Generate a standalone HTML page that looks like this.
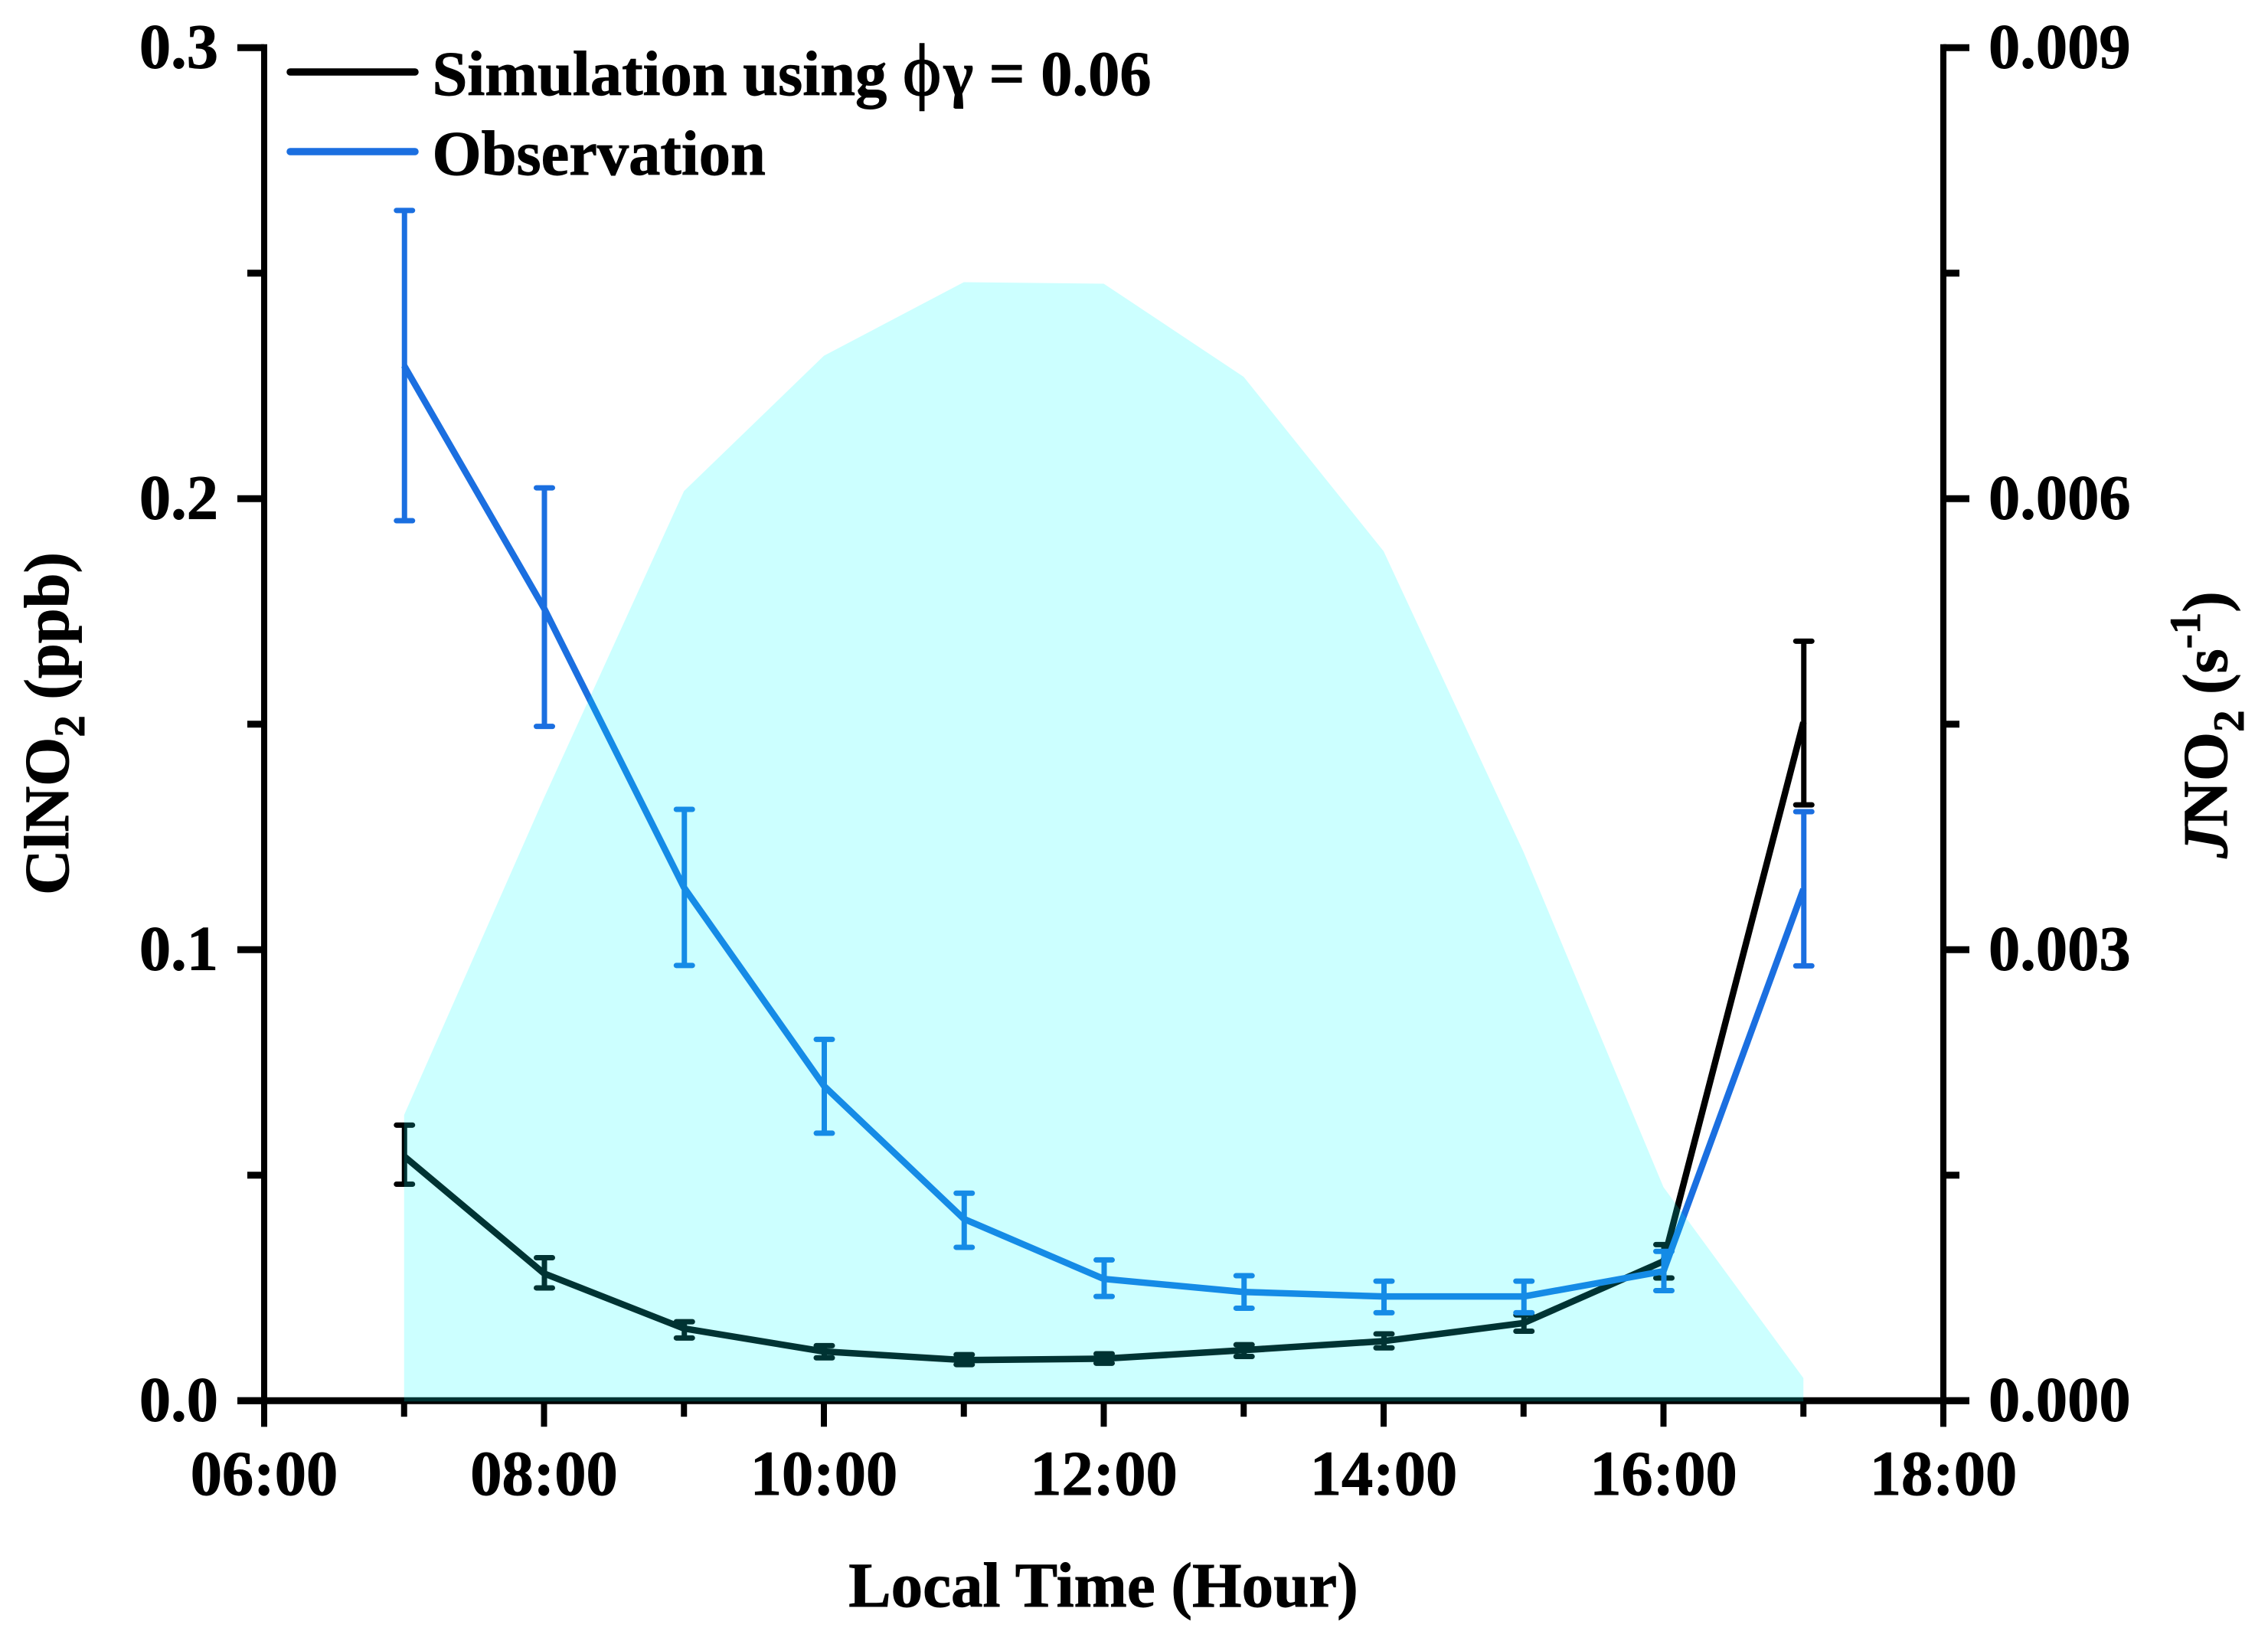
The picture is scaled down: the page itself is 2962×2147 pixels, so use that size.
<!DOCTYPE html>
<html lang="en">
<head>
<meta charset="utf-8">
<title>ClNO2 and JNO2 diurnal profile</title>
<style>
  html, body { margin: 0; padding: 0; background: #ffffff; }
  svg { display: block; }
  text { font-family: "Liberation Serif", serif; font-weight: bold; font-size: 82.5px; fill: #000; stroke: #000; stroke-width: 0.9px; white-space: pre; }
</style>
</head>
<body>
<svg id="chart" xmlns="http://www.w3.org/2000/svg" width="2962" height="2147" viewBox="0 0 2962 2147">
  <rect x="0" y="0" width="2962" height="2147" fill="#ffffff"/>
  <g id="axes-layer"></g>
  <g id="series-layer"></g>
  <g id="area-layer"></g>
  <g id="labels-layer"></g>

  <g>
    <line x1="379" y1="94" x2="542" y2="94" stroke="#000000" stroke-width="9.5" stroke-linecap="round"/>
    <text x="564.5" y="124">Simulation using <tspan style="font-weight:normal;stroke-width:1.6px;font-size:96px">ϕ</tspan><tspan dx="3">γ = 0.06</tspan></text>
    <line x1="379" y1="198" x2="542" y2="198" stroke="#1b6fe0" stroke-width="9.5" stroke-linecap="round"/>
    <text x="564.5" y="228">Observation</text>
  </g>

  <text x="1441" y="2098" text-anchor="middle" style="font-size:83px">Local Time (Hour)</text>
  <text transform="translate(89,1169) rotate(-90)">ClNO<tspan dy="21" style="font-size:57px">2</tspan><tspan dy="-21"> (ppb)</tspan></text>
  <text transform="translate(2908,1121) rotate(-90)"><tspan style="font-style:italic">J</tspan>NO<tspan dy="22" style="font-size:57px">2</tspan><tspan dy="-22"> (s</tspan><tspan dy="-35" style="font-size:57px">-1</tspan><tspan dy="35">)</tspan></text>
</svg>

<script>
// Chart data
const hours = [7, 8, 9, 10, 11, 12, 13, 14, 15, 16, 17];
const simValues = [0.0542, 0.0282, 0.0160, 0.0109, 0.0090, 0.0093, 0.0112, 0.0132, 0.0172, 0.0309, 0.1504];
const simUpper  = [0.0611, 0.0317, 0.0175, 0.0122, 0.0102, 0.0104, 0.0124, 0.0148, 0.0190, 0.0346, 0.1684];
const simLower  = [0.0480, 0.0250, 0.0139, 0.0095, 0.0080, 0.0083, 0.0098, 0.0117, 0.0154, 0.0272, 0.1321];
const obsValues = [0.2295, 0.1757, 0.1138, 0.0698, 0.0403, 0.0270, 0.0241, 0.0231, 0.0231, 0.0287, 0.1134];
const obsUpper  = [0.2639, 0.2024, 0.1311, 0.0801, 0.0460, 0.0312, 0.0277, 0.0265, 0.0265, 0.0331, 0.1306];
const obsLower  = [0.1951, 0.1495, 0.0965, 0.0593, 0.0340, 0.0231, 0.0205, 0.0195, 0.0195, 0.0244, 0.0964];
const jno2Values = [0.00190, 0.00401, 0.00605, 0.00695, 0.00744, 0.00743, 0.00681, 0.00565, 0.00365, 0.00142, 0.00015];

const xMajorTicks = [6, 8, 10, 12, 14, 16, 18];
const xMinorTicks = [7, 9, 11, 13, 15, 17];
const xTickLabels = ['06:00', '08:00', '10:00', '12:00', '14:00', '16:00', '18:00'];
const leftMajorTicks = [0, 0.1, 0.2, 0.3];
const leftMinorTicks = [0.05, 0.15, 0.25];
const leftTickLabels = ['0.0', '0.1', '0.2', '0.3'];
const rightMajorTicks = [0, 0.003, 0.006, 0.009];
const rightMinorTicks = [0.0015, 0.0045, 0.0075];
const rightTickLabels = ['0.000', '0.003', '0.006', '0.009'];

// Axis functions
const X0 = 345, HOUR_PX = 182.75, Y0 = 1829.2, PLOT_H = 1767;
const xScale = h => X0 + (h - 6) * HOUR_PX;
const yLeft = v => Y0 - v / 0.3 * PLOT_H;
const yRight = v => Y0 - v / 0.009 * PLOT_H;
const X_RIGHT = xScale(18);

const NS = 'http://www.w3.org/2000/svg';
const axesLayer = document.getElementById('axes-layer');
const seriesLayer = document.getElementById('series-layer');
const areaLayer = document.getElementById('area-layer');
const labelsLayer = document.getElementById('labels-layer');

function makeLine(parent, x1, y1, x2, y2, color, width, cap) {
  const el = document.createElementNS(NS, 'line');
  el.setAttribute('x1', x1);
  el.setAttribute('y1', y1);
  el.setAttribute('x2', x2);
  el.setAttribute('y2', y2);
  el.setAttribute('stroke', color);
  el.setAttribute('stroke-width', width);
  el.setAttribute('stroke-linecap', cap || 'butt');
  parent.appendChild(el);
  return el;
}

function makeLabel(text, x, y, anchor) {
  const el = document.createElementNS(NS, 'text');
  el.setAttribute('x', x);
  el.setAttribute('y', y);
  el.setAttribute('text-anchor', anchor);
  el.textContent = text;
  labelsLayer.appendChild(el);
  return el;
}

// Axis lines
const BLACK = '#000000';
const xAxisLine = makeLine(axesLayer, X0 - 35, Y0, X_RIGHT + 34, Y0, BLACK, 9);


const leftAxisLine = makeLine(axesLayer, X0, yLeft(0.3) - 4.5, X0, Y0 + 34, BLACK, 8);


const rightAxisLine = makeLine(axesLayer, X_RIGHT, yRight(0.009) - 4.5, X_RIGHT, Y0 + 34, BLACK, 8);



// X ticks and labels
xMajorTicks.forEach((h, i) => {
  const tick = makeLine(axesLayer, xScale(h), Y0, xScale(h), Y0 + 34, BLACK, 8);
  
  
  const label = makeLabel(xTickLabels[i], xScale(h), 1952, 'middle');
  
  
});
xMinorTicks.forEach(h => {
  const tick = makeLine(axesLayer, xScale(h), Y0, xScale(h), Y0 + 21, BLACK, 8);
  
  
});

// Left Y ticks and labels
leftMajorTicks.forEach((v, i) => {
  const tick = makeLine(axesLayer, X0 - 35, yLeft(v), X0, yLeft(v), BLACK, 9);
  
  
  const label = makeLabel(leftTickLabels[i], 285, yLeft(v) + 26.5, 'end');
  
  
});
leftMinorTicks.forEach(v => {
  const tick = makeLine(axesLayer, X0 - 22, yLeft(v), X0, yLeft(v), BLACK, 9);
  
  
});

// Right Y ticks and labels
rightMajorTicks.forEach((v, i) => {
  const tick = makeLine(axesLayer, X_RIGHT, yRight(v), X_RIGHT + 34, yRight(v), BLACK, 9);
  
  
  const label = makeLabel(rightTickLabels[i], 2597, yRight(v) + 26.5, 'start');
  
  
});
rightMinorTicks.forEach(v => {
  const tick = makeLine(axesLayer, X_RIGHT, yRight(v), X_RIGHT + 21, yRight(v), BLACK, 9);
  
  
});

// Series: error bars and line
function drawErrorBars(values, upper, lower, color, seriesName) {
  hours.forEach((h, i) => {
    const x = xScale(h) + 0.5;
    const stem = makeLine(seriesLayer, x, yLeft(upper[i]), x, yLeft(lower[i]), color, 7);
    
    
    const capTop = makeLine(seriesLayer, x - 10.5, yLeft(upper[i]), x + 10.5, yLeft(upper[i]), color, 7, 'round');
    
    
    const capBottom = makeLine(seriesLayer, x - 10.5, yLeft(lower[i]), x + 10.5, yLeft(lower[i]), color, 7, 'round');
    
    
  });
}

function drawSeriesLine(values, color, seriesName) {
  const el = document.createElementNS(NS, 'polyline');
  el.setAttribute('points', hours.map((h, i) => xScale(h) + ',' + yLeft(values[i])).join(' '));
  el.setAttribute('fill', 'none');
  el.setAttribute('stroke', color);
  el.setAttribute('stroke-width', '8.5');
  el.setAttribute('stroke-linejoin', 'round');
  
  
  seriesLayer.appendChild(el);
}

drawErrorBars(simValues, simUpper, simLower, '#000000', 'simulation');
drawSeriesLine(simValues, '#000000', 'simulation');
drawErrorBars(obsValues, obsUpper, obsLower, '#1b6fe0', 'observation');
drawSeriesLine(obsValues, '#1b6fe0', 'observation');

// JNO2 translucent area, painted above lines and axis
const areaPoints = hours.map((h, i) => xScale(h) + ',' + yRight(jno2Values[i]));
areaPoints.push(xScale(hours[hours.length - 1]) + ',' + (yRight(0) + 1));
areaPoints.push(xScale(hours[0]) + ',' + (yRight(0) + 1));
const area = document.createElementNS(NS, 'polygon');
area.setAttribute('points', areaPoints.join(' '));
area.setAttribute('fill', '#00ffff');
area.setAttribute('fill-opacity', '0.2');


areaLayer.appendChild(area);
</script>
</body>
</html>
